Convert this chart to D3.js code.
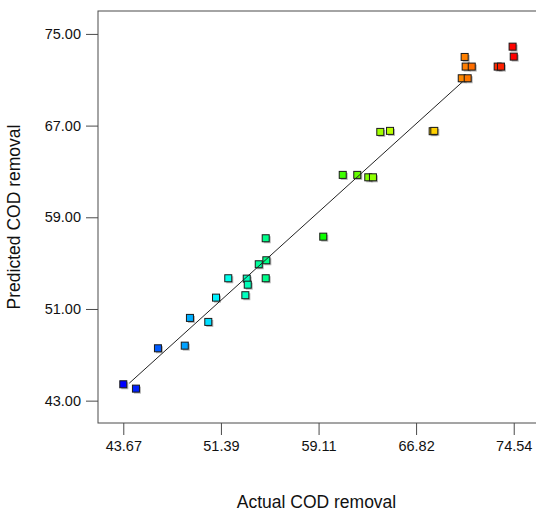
<!DOCTYPE html>
<html><head><meta charset="utf-8">
<script src="https://cdn.jsdelivr.net/npm/d3@7"></script>
<style>body{margin:0;background:#fff}svg{display:block}</style>
</head><body><svg id="c" width="536" height="511"></svg>
<script>
const actual    = [43.67,44.67,46.41,48.53,48.94,50.39,51.00,51.97,53.32,53.43,53.51,54.38,54.98,54.93,54.93,59.48,61.02,62.17,63.04,63.41,63.99,64.76,68.13,68.26,70.66,70.74,71.22,70.43,70.90,73.27,73.53,74.45,74.54];
const predicted = [44.43,44.05,47.57,47.80,50.22,49.87,51.99,53.68,52.20,53.65,53.12,54.90,55.25,57.17,53.68,57.31,62.70,62.70,62.49,62.49,66.45,66.54,66.51,66.54,72.99,72.15,72.15,71.13,71.13,72.15,72.15,73.89,73.02];
const xTicks = [43.67,51.39,59.11,66.82,74.54];
const yTicks = [43.00,51.00,59.00,67.00,75.00];
const fitLine = [[44.14,44.52],[70.51,70.84]];

const svg = d3.select("#c");
const L=98, R=537, T=11, B=423;
const x = d3.scaleLinear().domain([41.67,76.38]).range([L,R]);
const y = d3.scaleLinear().domain([41.05,77.0]).range([B,T]);
const font = "Liberation Sans, Arial, sans-serif";
const axisColor = "#4a4a4a";

svg.append("rect").attr("x",L).attr("y",T).attr("width",R-L).attr("height",B-T)
  .attr("fill","none").attr("stroke",axisColor).attr("stroke-width",1);

const xAxis = d3.axisBottom(x).tickValues(xTicks).tickSize(12).tickPadding(6).tickFormat(d3.format(".2f"));
const gx = svg.append("g").attr("transform",`translate(0,${B})`).call(xAxis);
const yAxis = d3.axisLeft(y).tickValues(yTicks).tickSize(12).tickPadding(5).tickFormat(d3.format(".2f"));
const gy = svg.append("g").attr("transform",`translate(${L},0)`).call(yAxis);
[gx,gy].forEach(g=>{
  g.select(".domain").remove();
  g.selectAll(".tick line").attr("stroke",axisColor);
  g.selectAll(".tick text").attr("fill","#111").style("font-family",font).style("font-size","14.5px");
});

const xmin=d3.min(actual), xmax=d3.max(actual);
const color = v => d3.hsl(240*(1-(v-xmin)/(xmax-xmin)),1,0.5).toString();
const s=7;
const pts = svg.append("g");
actual.forEach((a,i)=>{
  const cx=x(a), cy=y(predicted[i]);
  pts.append("rect").attr("x",cx-s/2+1.5).attr("y",cy-s/2+1.5).attr("width",s).attr("height",s)
    .attr("fill","#777").attr("opacity",0.55);
});
actual.forEach((a,i)=>{
  const cx=x(a), cy=y(predicted[i]);
  pts.append("rect").attr("x",cx-s/2).attr("y",cy-s/2).attr("width",s).attr("height",s)
    .attr("fill",color(a)).attr("stroke","#1a1a1a").attr("stroke-width",1);
});

svg.append("line")
  .attr("x1",x(fitLine[0][0])).attr("y1",y(fitLine[0][1]))
  .attr("x2",x(fitLine[1][0])).attr("y2",y(fitLine[1][1]))
  .attr("stroke","#222").attr("stroke-width",1);

svg.append("text").attr("x",316.5).attr("y",508).attr("text-anchor","middle")
  .style("font-family",font).style("font-size","17.5px").attr("fill","#111").text("Actual COD removal");
svg.append("text").attr("transform","translate(20,217) rotate(-90)").attr("text-anchor","middle")
  .style("font-family",font).style("font-size","17.5px").attr("fill","#111").text("Predicted COD removal");
</script></body></html>
